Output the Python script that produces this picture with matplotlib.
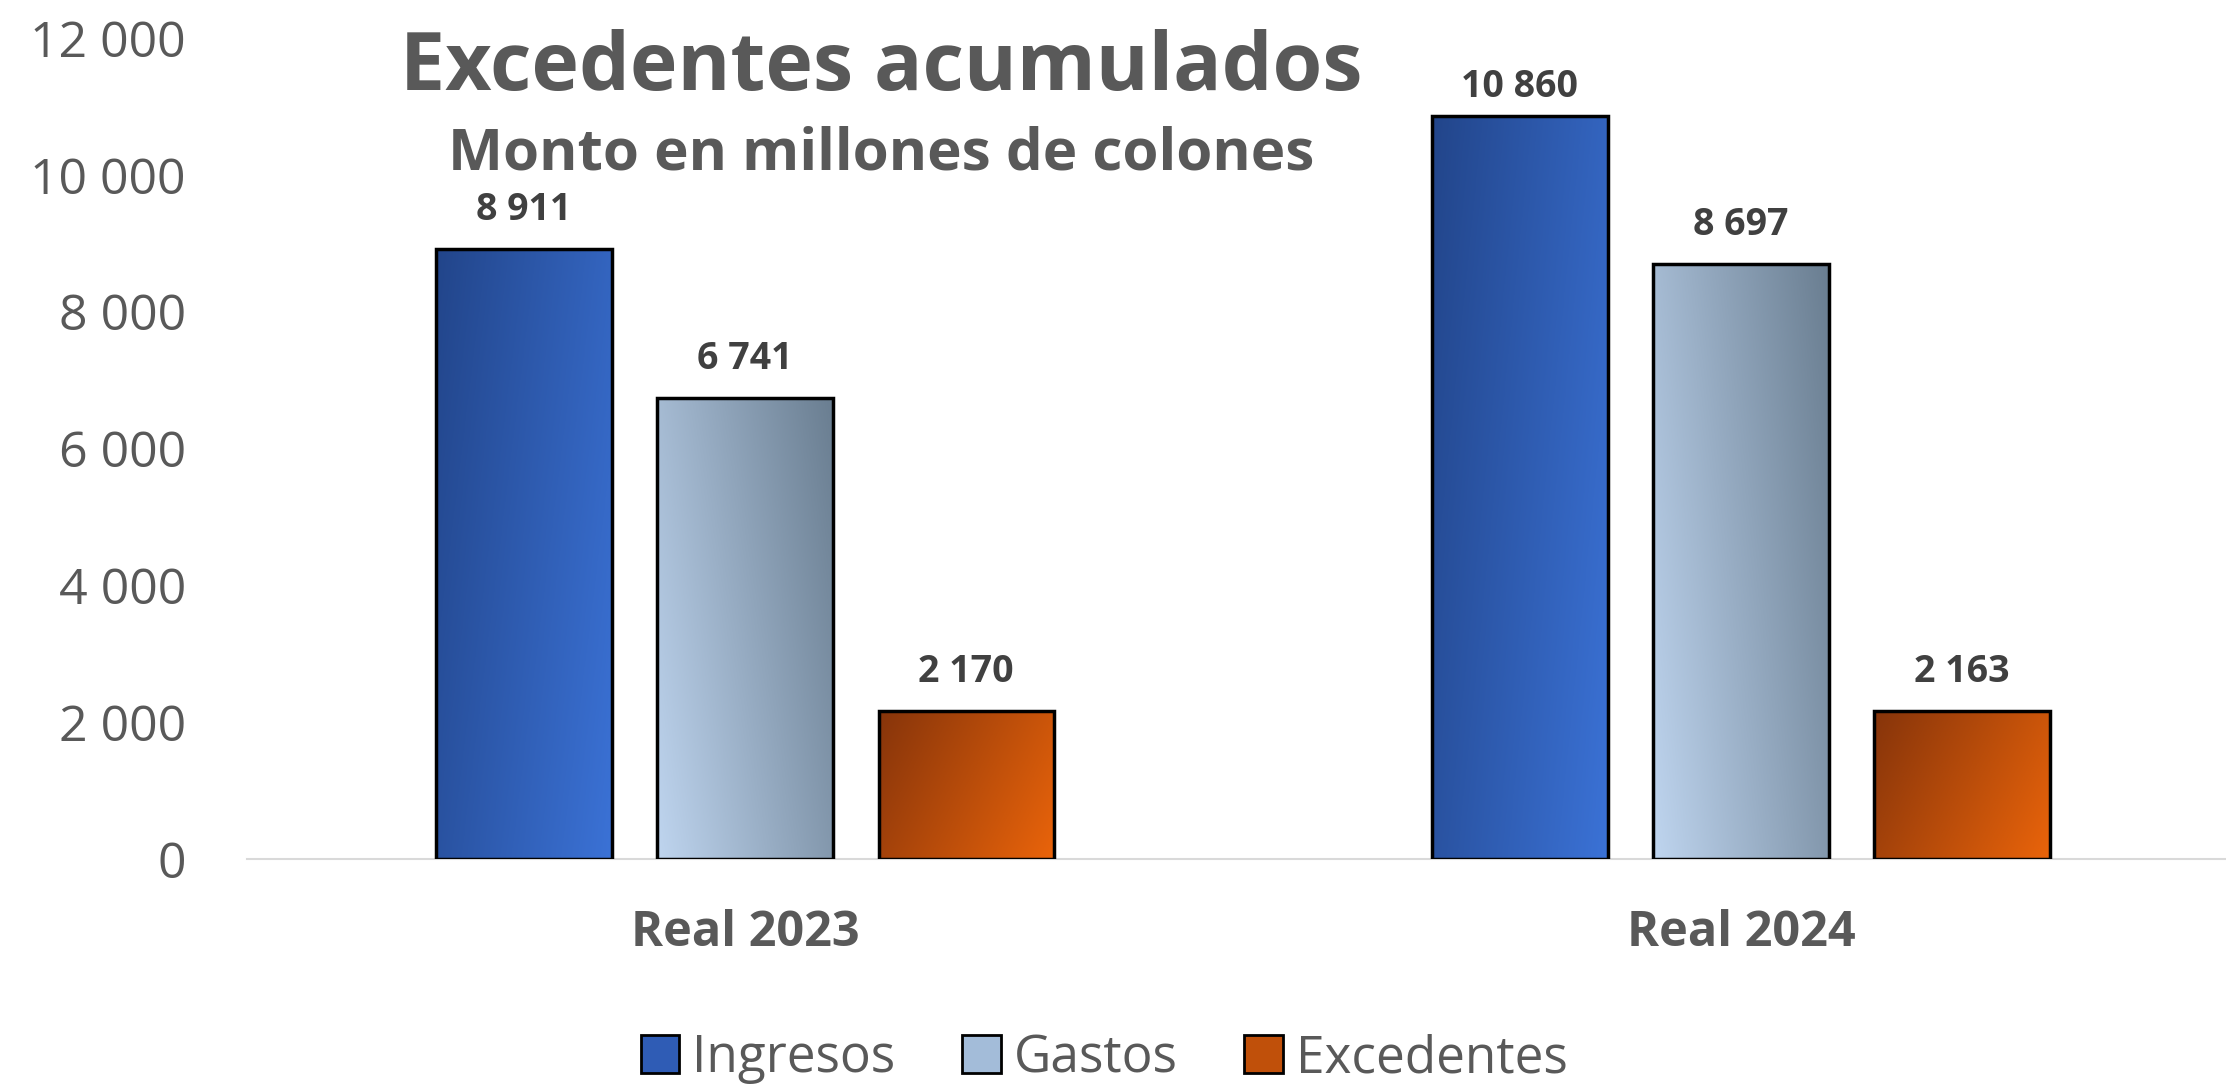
import numpy as np
import matplotlib
matplotlib.use("Agg")
import matplotlib.pyplot as plt
from matplotlib.colors import LinearSegmentedColormap
from matplotlib.patches import Patch

# ---- data ----
categories = ["Real 2023", "Real 2024"]
series_names = ["Ingresos", "Gastos", "Excedentes"]
ingresos = [8911, 10860]
gastos = [6741, 8697]
excedentes = [2170, 2163]
yticks = [0, 2000, 4000, 6000, 8000, 10000, 12000]
title = "Excedentes acumulados"
subtitle = "Monto en millones de colones"

# ---- style ----
plt.rcParams['font.family'] = ['Open Sans', 'DejaVu Sans']
GRAY = "#595959"
LABEL = "#404040"
grads = [("#22458a", "#3b72d6", "tl_br"),
         ("#bfd5ef", "#6a7e91", "bl_tr"),
         ("#86340a", "#ea640a", "tl_br")]
solid = ["#2f5cb5", "#a3bcd9", "#c0500a"]

DPI = 100
fig = plt.figure(figsize=(22.26, 10.88), dpi=DPI)
ax = fig.add_axes([0.111, 0.2105, 0.889, 0.7545])
ax.set_xlim(-0.5, 1.487)
ax.set_ylim(0, 12000)

x = np.arange(len(categories))
width = 0.176
pitch = 0.222
values = [ingresos, gastos, excedentes]

def fmt(v):
    return f"{v:,}".replace(",", " ")

LABEL_GAP_PX = 29
LABEL_MAX_BASELINE_PX = 1088 - 97  # data labels kept inside plot area

n = 200
xx, yy = np.meshgrid(np.linspace(0, 1, n), np.linspace(0, 1, n))
for i, (vals, (c0, c1, mode)) in enumerate(zip(values, grads)):
    bars = ax.bar(x + (i - 1) * pitch, vals, width, facecolor="none",
                  edgecolor="black", linewidth=2.5, zorder=3)
    cmap = LinearSegmentedColormap.from_list(f"g{i}", [c0, c1])
    for b in bars:
        bx, by, bw, bh = b.get_x(), b.get_y(), b.get_width(), b.get_height()
        if mode == "tl_br":
            t = 0.7 * xx + 0.3 * (1 - yy)
        else:
            t = 0.7 * xx + 0.3 * yy
        im = ax.imshow(t, extent=[bx, bx + bw, by, by + bh], origin="lower",
                       cmap=cmap, vmin=0, vmax=1, aspect="auto",
                       interpolation="bilinear", zorder=2)
        im.set_clip_path(b)
        top_px = ax.transData.transform((0, by + bh))[1]
        base_px = min(top_px + LABEL_GAP_PX, LABEL_MAX_BASELINE_PX)
        off_pt = (base_px - top_px) * 72 / DPI
        ax.annotate(fmt(b.get_height()), (bx + bw / 2, by + bh),
                    xytext=(0, off_pt), textcoords="offset points",
                    ha="center", va="baseline", fontsize=27,
                    fontweight="bold", color=LABEL)

ax.set_xlim(-0.5, 1.487)
ax.set_ylim(0, 12000)
ax.set_yticks(yticks)
ax.set_yticklabels([fmt(v) for v in yticks])
ax.set_xticks(x)
ax.set_xticklabels(categories, fontweight="bold")
ax.tick_params(axis="y", length=0, pad=44, labelsize=36, labelcolor=GRAY)
ax.tick_params(axis="x", length=0, pad=36, labelsize=35, labelcolor=GRAY)
for s in ["top", "right", "left"]:
    ax.spines[s].set_visible(False)
ax.spines["bottom"].set_color("#d9d9d9")
ax.spines["bottom"].set_linewidth(1.5)
ax.spines["bottom"].set_zorder(1)

fig.text(0.396, 0.937, title, ha="center", va="center", fontsize=58,
         fontweight="bold", color=GRAY)
fig.text(0.396, 0.858, subtitle, ha="center", va="center", fontsize=42,
         fontweight="bold", color=GRAY)

handles = [Patch(facecolor=c, edgecolor="black", linewidth=2) for c in solid]
fig.legend(handles, series_names, loc="center", bbox_to_anchor=(0.496, 0.027),
           ncol=3, frameon=False, fontsize=37, labelcolor=GRAY,
           handlelength=0.75, handleheight=0.75, handletextpad=0.25,
           columnspacing=1.3, borderpad=0.1)

fig.savefig("out.png", dpi=DPI, facecolor="white")
